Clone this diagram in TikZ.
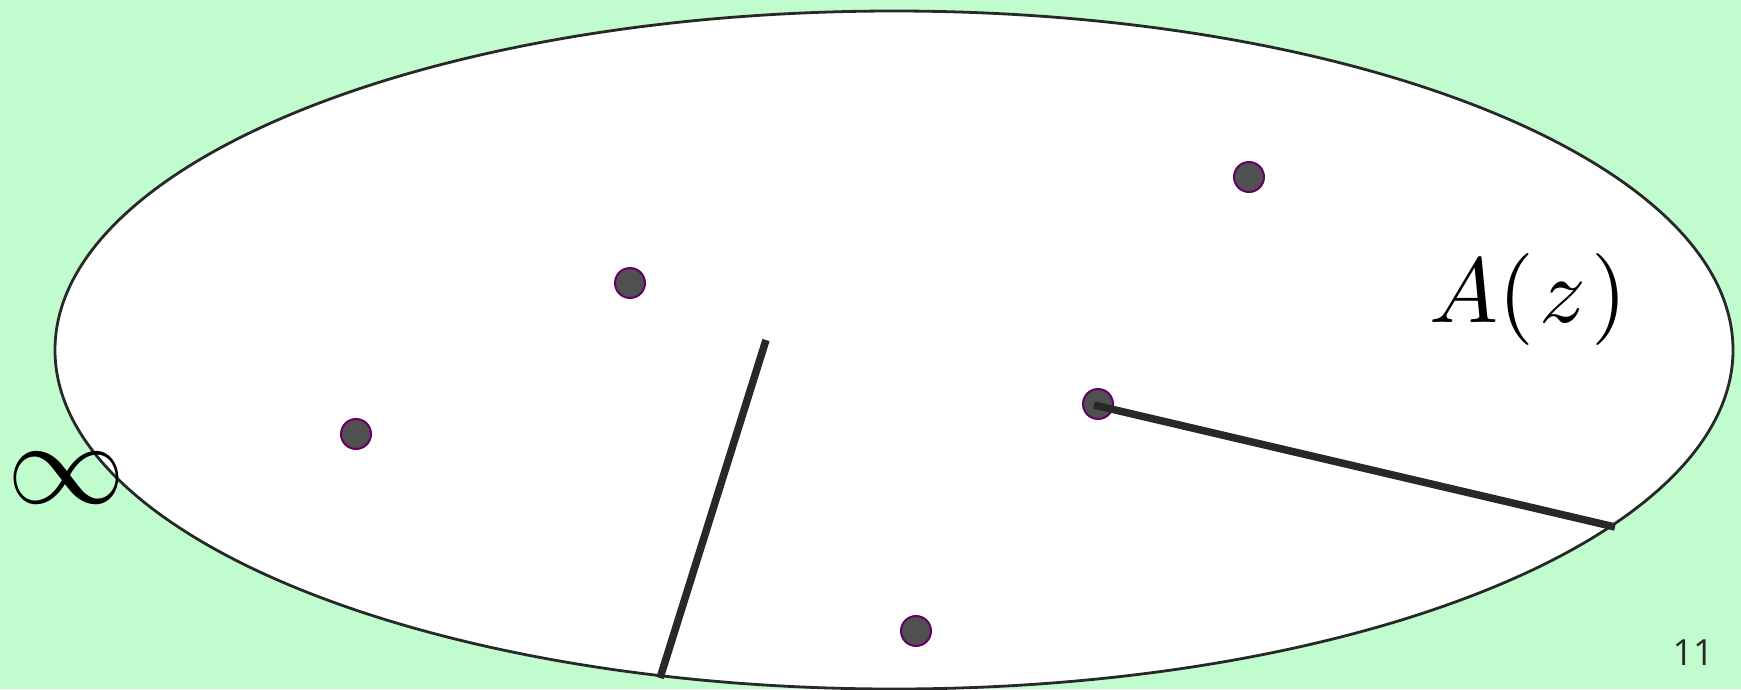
\RequirePackage{fix-cm}
\documentclass[tikz,border=0pt]{standalone}
\usepackage{graphicx}
\usepackage{fontspec}
\newfontfamily\numfont{Open Sans}
\definecolor{bggreen}{RGB}{192,252,206}
\definecolor{dotfill}{RGB}{80,80,80}
\definecolor{dotrim}{RGB}{102,0,102}
\definecolor{inkdark}{RGB}{40,40,40}
\tikzset{
  pole/.style={circle,fill=dotfill,draw=dotrim,line width=2pt,minimum size=30pt,inner sep=0pt},
  cut/.style={draw=inkdark,line width=7.5pt},
}
\begin{document}
\begin{tikzpicture}[x=1pt,y=-1pt]
\fill[bggreen] (0,0) rectangle (1741,689);
\useasboundingbox (0,0) rectangle (1741,689);
\draw[fill=white,draw=inkdark,line width=2.8pt] (894,350) ellipse [x radius=839, y radius=339];
\node[pole] (p1) at (1249,177) {};
\node[pole] (p2) at (630,283) {};
\node[pole] (p3) at (356,434) {};
\node[pole] (p4) at (1098,404) {};
\node[pole] (p5) at (916,631) {};
\coordinate (e1) at (1615,527);
\coordinate (c1) at (766,340);
\coordinate (e2) at (660,678);
\draw[cut] ([xshift=-4pt,yshift=-1pt]p4.center) -- (e1);
\draw[cut] (c1) -- (e2);
\node[anchor=base west,inner sep=0pt] (lab) at (1429,322) {\scalebox{9.2}{$A(\mkern1mu z\mkern1mu)$}};
\node[inner sep=0pt,font=\fontsize{118}{130}\selectfont] (inf) at (66,478) {$\infty$};
\node[anchor=base east,inner sep=0pt,text=inkdark,font=\numfont\fontsize{36}{40}\selectfont] (pg) at (1714,665) {11};
\end{tikzpicture}
\end{document}
